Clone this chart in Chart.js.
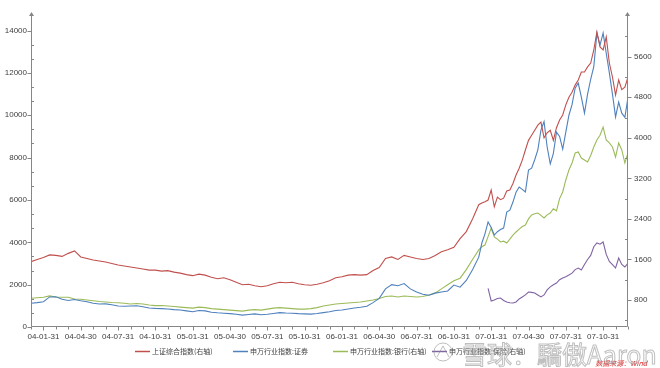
<!DOCTYPE html>
<html><head><meta charset="utf-8">
<script src="https://cdn.jsdelivr.net/npm/chart.js@4/dist/chart.umd.min.js"></script>
<style>html,body{margin:0;padding:0;background:#fff}#wrap{width:660px;height:368px;position:relative}</style>
</head><body><div id="wrap"><canvas id="c" width="660" height="368"></canvas></div>
<script>
// ---- data ----
const seriesNames = ['上证综合指数(右轴)', '申万行业指数:证券', '申万行业指数:银行(右轴)', '申万行业指数:保险(右轴)'];
const xTickLabels = ['04-01-31','04-04-30','04-07-31','04-10-31','05-01-31','05-04-30','05-07-31','05-10-31',
  '06-01-31','06-04-30','06-07-31','06-10-31','07-01-31','07-04-30','07-07-31','07-10-31'];
// sample dates in months since 2004-01-01: twice a month 2004-2006, four times a month in 2007
const sampleMonths = [];
for (let i = 0; i < 72; i++) sampleMonths.push(i * 0.5);
for (let j = 0; j < 49; j++) sampleMonths.push(36 + j * 0.25);

const shComposite = [
  1556,1600,1640,1690,1680,1660,1720,1768,1650,1620,1590,1570,1550,1520,1490,1470,1450,1430,1410,1390,1390,1370,1380,1350,
  1330,1300,1280,1310,1290,1250,1220,1240,1200,1150,1100,1110,1080,1060,1080,1120,1150,1140,1150,1120,1100,1090,1110,1140,
  1180,1240,1260,1290,1300,1290,1300,1380,1440,1620,1650,1600,1680,1650,1620,1600,1620,1680,1750,1790,1840,2010,2150,2400,
  2680,2714,2740,2773,2970,2640,2830,2780,2810,2950,2970,3100,3266,3400,3560,3760,3950,4050,4150,4250,4310,4000,4100,4150,
  3950,4200,4350,4450,4650,4800,4900,5040,5141,5298,5300,5400,5476,5733,6088,5792,5733,5990,5476,5200,4845,5141,4950,5000,5200
];
const swSecurities = [
  1120,1150,1195,1420,1430,1310,1250,1300,1240,1195,1120,1085,1090,1050,990,980,990,1000,960,900,880,870,850,820,
  800,760,720,780,760,700,670,650,630,600,560,590,620,580,600,640,680,660,650,630,620,610,640,680,
  720,780,800,850,900,930,980,1150,1350,1800,2000,1950,2050,1800,1650,1550,1500,1600,1650,1700,1980,1880,2200,2700,
  3300,3966,4400,4960,4700,4344,4500,4600,4675,5430,5520,5900,6370,6610,6500,6375,7410,7500,7900,8360,9300,9700,8500,7700,
  8200,9200,9000,8400,9200,10000,10500,11280,11520,10860,10100,11000,11700,12300,13880,13310,13880,12930,12000,11000,9920,10620,10100,9900,10860
];
const swBanks = [
  834,845,853,880,860,853,853,820,814,800,785,770,760,750,747,735,721,730,721,700,688,690,682,670,
  660,650,640,660,650,630,620,610,600,590,580,600,610,600,620,640,650,640,630,620,620,630,650,680,
  700,720,730,740,750,760,780,800,830,870,880,860,880,870,860,870,900,940,1020,1100,1180,1230,1400,1600,
  1787,1850,1885,2050,2220,2043,2000,1944,1960,1925,2000,2080,2142,2200,2250,2280,2400,2477,2500,2516,2470,2418,2480,2516,
  2600,2560,2800,2931,3168,3365,3503,3700,3720,3600,3562,3523,3650,3819,3957,4050,4213,3957,3900,3819,3621,3898,3760,3503,3700
];
const insuranceStart = 75; // first sample with a value
const swInsurance = [
  1030,780,800,830,840,790,760,745,741,760,820,860,900,958,950,938,900,860,900,1000,
  1060,1100,1135,1200,1234,1260,1293,1330,1400,1431,1392,1500,1600,1680,1850,1925,1900,1944,1700,1560,
  1500,1431,1629,1500,1451,1530
];
const leftTicks = [];  for (let k = 0; k <= 21; k++) leftTicks.push(k * 2000 / 3);
const rightTicks = []; for (let k = 1; k <= 15; k++) rightTicks.push(k * 400);
const monthTicks = []; for (let m = 0; m <= 48; m++) monthTicks.push(m);

// ---- styles ----
const colors = ['#C0504D', '#4F81BD', '#9BBB59', '#8064A2'];
const axisColor = '#868686';
const tickFont = { family: '"Liberation Sans", Arial, sans-serif', size: 8 };
const isMult = (v, s) => Math.abs(v / s - Math.round(v / s)) < 1e-6;

function toPoints(arr, offset) {
  return sampleMonths.map((m, k) => ({ x: m, y: (k - offset >= 0 && k - offset < arr.length) ? arr[k - offset] : null }));
}

const axesPlugin = {
  id: 'axesPlugin',
  afterDraw(chart) {
    const ctx = chart.ctx, a = chart.chartArea;
    const L = Math.round(a.left) + 0.5, R = Math.round(a.right) - 0.5, B = Math.round(a.bottom) - 0.5, T = Math.round(a.top);
    ctx.save();
    ctx.strokeStyle = axisColor; ctx.fillStyle = axisColor; ctx.lineWidth = 1;
    ctx.beginPath();
    ctx.moveTo(L, T - 2); ctx.lineTo(L, B); ctx.lineTo(R, B); ctx.lineTo(R, T - 2);
    ctx.stroke();
    // arrowheads
    [L, R].forEach(x => {
      ctx.beginPath(); ctx.moveTo(x, T - 5); ctx.lineTo(x + 2.5, T - 1); ctx.lineTo(x - 2.5, T - 1); ctx.closePath(); ctx.fill();
    });
    const yl = chart.scales.yL, yr = chart.scales.yR, xs = chart.scales.x;
    ctx.beginPath();
    leftTicks.forEach(v => {
      const y = Math.round(yl.getPixelForValue(v)) + 0.5;
      if (isMult(v, 2000)) { ctx.moveTo(L - 4, y); ctx.lineTo(L, y); } else { ctx.moveTo(L, y); ctx.lineTo(L + 2.5, y); }
    });
    rightTicks.forEach(v => {
      const y = Math.round(yr.getPixelForValue(v)) + 0.5;
      if (isMult(v, 800)) { ctx.moveTo(R, y); ctx.lineTo(R + 4, y); } else { ctx.moveTo(R - 2.5, y); ctx.lineTo(R, y); }
    });
    monthTicks.forEach(m => {
      const x = Math.round(xs.getPixelForValue(m)) + 0.5;
      const len = (m % 3 === 1) ? 4 : 3;
      ctx.moveTo(x, B); ctx.lineTo(x, B + len);
    });
    ctx.stroke();

    // legend
    const legendX = [135, 233, 333, 432];
    const ly = 351.5;
    ctx.font = '7px "Noto Sans CJK SC", sans-serif';
    ctx.textBaseline = 'middle';
    chart.data.datasets.forEach((ds, i) => {
      ctx.strokeStyle = ds.borderColor; ctx.lineWidth = 1.5;
      ctx.beginPath(); ctx.moveTo(legendX[i], ly); ctx.lineTo(legendX[i] + 15, ly); ctx.stroke();
      ctx.fillStyle = '#404040';
      ctx.fillText(ds.label, legendX[i] + 17, ly);
    });

    // source note
    ctx.font = 'italic 7px "Noto Sans CJK SC", sans-serif';
    ctx.fillStyle = '#E02020';
    ctx.textAlign = 'right';
    ctx.fillText('数据来源：Wind', 647, 363);

    // watermark
    ctx.textAlign = 'left';
    ctx.globalAlpha = 0.55;
    ctx.strokeStyle = '#8a8a8a'; ctx.lineWidth = 1;
    ctx.beginPath(); ctx.arc(443, 352, 9, 0, Math.PI * 2); ctx.stroke();
    ctx.beginPath(); ctx.moveTo(437, 357); ctx.lineTo(443, 346); ctx.lineTo(449, 357); ctx.stroke();
    ctx.font = '25px "Noto Sans CJK SC", sans-serif';
    ctx.textBaseline = 'alphabetic';
    ctx.fillStyle = 'rgba(255,255,255,0.5)';
    ctx.fillText('雪球：驕傲Aaron', 462, 364);
    ctx.strokeText('雪球：驕傲Aaron', 462, 364);
    ctx.restore();
  }
};

const hiddenGrid = { display: false, drawTicks: false };

new Chart(document.getElementById('c'), {
  type: 'line',
  data: {
    datasets: [
      { label: seriesNames[0], data: toPoints(shComposite, 0), yAxisID: 'yR', borderColor: colors[0] },
      { label: seriesNames[1], data: toPoints(swSecurities, 0), yAxisID: 'yL', borderColor: colors[1] },
      { label: seriesNames[2], data: toPoints(swBanks, 0), yAxisID: 'yR', borderColor: colors[2] },
      { label: seriesNames[3], data: toPoints(swInsurance, insuranceStart), yAxisID: 'yR', borderColor: colors[3] }
    ].map(d => Object.assign(d, { borderWidth: 1.1, pointRadius: 0, tension: 0, fill: false, spanGaps: false }))
  },
  options: {
    responsive: false, animation: false, devicePixelRatio: 1,
    layout: { padding: { left: 0, right: 0, top: 17, bottom: 21 } },
    plugins: { legend: { display: false }, tooltip: { enabled: false } },
    scales: {
      x: {
        type: 'linear', min: 0, max: 48,
        afterBuildTicks: s => { s.ticks = monthTicks.map(v => ({ value: v })); },
        afterFit: s => { s.height = 20; },
        grid: hiddenGrid, border: { display: false },
        ticks: { autoSkip: false, maxRotation: 0, minRotation: 0, padding: 5, color: '#404040', font: tickFont,
          callback: v => (v % 3 === 1) ? xTickLabels[(v - 1) / 3] : '' }
      },
      yL: {
        position: 'left', min: 0, max: 14640,
        afterBuildTicks: s => { s.ticks = leftTicks.map(v => ({ value: v })); },
        afterFit: s => { s.width = 31; },
        grid: hiddenGrid, border: { display: false },
        ticks: { autoSkip: false, padding: 4, color: '#404040', font: tickFont,
          callback: v => isMult(v, 2000) ? String(Math.round(v)) : '' }
      },
      yR: {
        position: 'right', min: 267, max: 6384,
        afterBuildTicks: s => { s.ticks = rightTicks.map(v => ({ value: v })); },
        afterFit: s => { s.width = 32; },
        grid: hiddenGrid, border: { display: false },
        ticks: { autoSkip: false, padding: 6, color: '#404040', font: tickFont,
          callback: v => isMult(v, 800) ? String(Math.round(v)) : '' }
      }
    }
  },
  plugins: [axesPlugin]
});
</script>
</body></html>
